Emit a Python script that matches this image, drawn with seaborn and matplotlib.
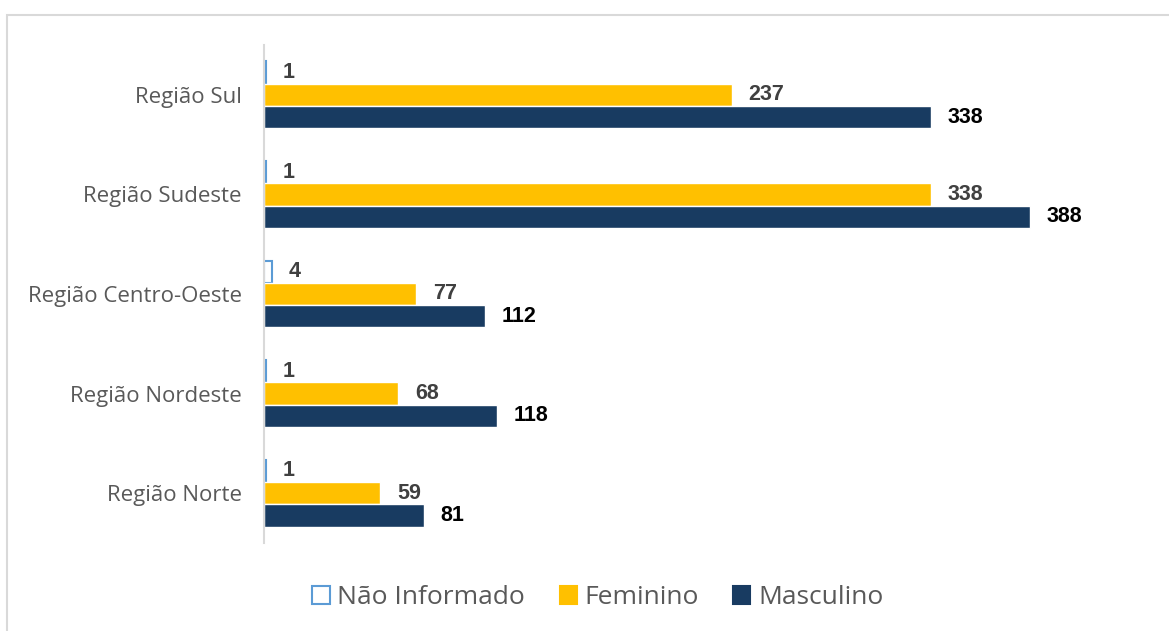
import pandas as pd
import matplotlib.pyplot as plt
import seaborn as sns
from matplotlib.patches import Patch, Rectangle

regioes = ["Região Sul", "Região Sudeste", "Região Centro-Oeste", "Região Nordeste", "Região Norte"]
nao_informado = [1, 1, 4, 1, 1]
feminino = [237, 338, 77, 68, 59]
masculino = [338, 388, 112, 118, 81]
series = ["Não Informado", "Feminino", "Masculino"]

df = pd.DataFrame({
    "regiao": regioes * 3,
    "sexo": [s for s in series for _ in regioes],
    "total": nao_informado + feminino + masculino,
})

sns.set_style("white")
plt.rcParams["font.family"] = ["Open Sans", "DejaVu Sans"]

cores = {"Não Informado": "#FFFFFF", "Feminino": "#FFC000", "Masculino": "#183B61"}

fig = plt.figure(figsize=(11.69, 6.31), dpi=100)
ax = fig.add_axes([0.2258, 0.1395, 0.76, 0.7892])

sns.barplot(data=df, y="regiao", x="total", hue="sexo", order=regioes,
            hue_order=series, palette=cores, orient="h", width=0.67,
            saturation=1, legend=False, ax=ax)

# barra "Não Informado" só com contorno
for p in ax.containers[0]:
    p.set_edgecolor("#5B9BD5")
    p.set_linewidth(1.5)

label_cores = ["#404040", "#404040", "#000000"]
for cont, c in zip(ax.containers, label_cores):
    ax.bar_label(cont, padding=12, color=c, fontsize=15.5, fontweight="bold",
                 family=["Liberation Sans", "DejaVu Sans"])

ax.set_xlim(0, 450)
ax.set_ylim(4.5, -0.5)
ax.set_xlabel("")
ax.set_ylabel("")
ax.set_xticks([])
ax.tick_params(axis="y", length=0, labelsize=16, labelcolor="#595959", pad=16)
for s in ["top", "right", "bottom"]:
    ax.spines[s].set_visible(False)
ax.spines["left"].set_color("#D9D9D9")
ax.spines["left"].set_linewidth(1.5)

handles = [Patch(facecolor=cores[s], edgecolor="#5B9BD5" if s == "Não Informado" else cores[s],
                 linewidth=1.5, label=s) for s in series]
fig.legend(handles=handles, loc="center", bbox_to_anchor=(598 / 1169, 1 - 598 / 631),
           ncol=3, frameon=False, fontsize=19, handlelength=0.65, handleheight=0.65,
           handletextpad=0.3, columnspacing=1.3, labelcolor="#595959")

# moldura cinza do gráfico
fig.patches.append(Rectangle((7 / 1169, -0.1), 1.2, 1 - 15 / 631 + 0.1,
                             transform=fig.transFigure, fill=False,
                             edgecolor="#D9D9D9", linewidth=1.5))

fig.savefig("out.png", dpi=100)
